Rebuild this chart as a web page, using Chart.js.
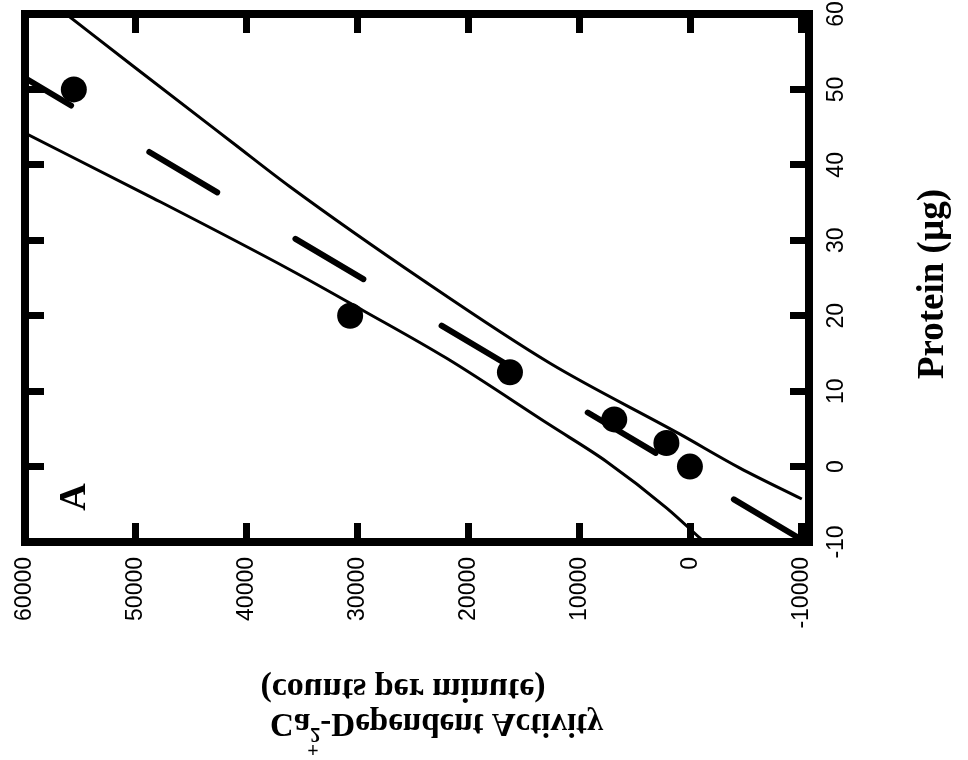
<!DOCTYPE html>
<html>
<head>
<meta charset="utf-8">
<script src="https://cdn.jsdelivr.net/npm/chart.js@4.4.0/dist/chart.umd.min.js"></script>
<style>
  html, body { margin: 0; padding: 0; background: #fff; }
</style>
</head>
<body>
<canvas id="chart-activity" width="968" height="760"></canvas>
<script>
// protein per assay (µg) and the Ca2+-dependent activity measured (cpm)
const proteinUg = [0, 3.125, 6.25, 12.5, 20, 50];
const activityCpm = [80, 2200, 6900, 16300, 30700, 55600];

// regression line, listed from its low end so the dashes start in the corner
const fitProtein = [-9.7, 51.5];
const fitActivity = [-10000, 60000];

// confidence band, low-activity side
const bandLowProtein = [60, 53.1, 42.9, 37.1, 24.7, 13.7, 4.3, -0.2, -4.3];
const bandLowActivity = [56300, 50270, 41260, 36120, 24130, 12690, 980, -4430, -10000];

// confidence band, high-activity side
const bandHighProtein = [44.2, 35.6, 26.1, 20.7, 14.35, 5.5, 0.65, -5.5, -9.5, -10];
const bandHighActivity = [60000, 48470, 36120, 29540, 22000, 12690, 7580, 2170, -830, -1200];

// axes
const activityTicks = [60000, 50000, 40000, 30000, 20000, 10000, 0, -10000];
const proteinTicks = [-10, 0, 10, 20, 30, 40, 50, 60];
const activityRange = [-10650, 60000];
const proteinRange = [-10, 60];

const panelLabel = 'A';
const proteinTitle = 'Protein (µg)';
const activityTitle = ['Ca', '2', '+', '-Dependent Activity'];
const activityUnits = '(counts per minute)';

const toPoints = (xs, ys) => xs.map((x, i) => ({ x: x, y: ys[i] }));

const tickFont = { family: '"Liberation Sans", Arial, sans-serif', size: 23 };
const frame = { display: true, width: 8, color: '#000' };
const tickMarks = {
    drawOnChartArea: false,
    drawTicks: true,
    tickLength: -19,
    tickWidth: 7,
    tickColor: '#000'
};

// the turned labels would otherwise push the plot area inward
function fixSize(s, size) {
    if (s.isHorizontal()) s.height = size; else s.width = size;
    s.paddingLeft = s.paddingRight = s.paddingTop = s.paddingBottom = 0;
}

function activityAxis(position, showLabels) {
    return {
        type: 'linear',
        position: position,
        reverse: true,
        min: activityRange[0],
        max: activityRange[1],
        afterBuildTicks: s => { s.ticks = activityTicks.map(v => ({ value: v })); },
        afterFit: s => fixSize(s, showLabels ? 218 : 0),
        border: frame,
        grid: tickMarks,
        ticks: {
            display: showLabels,
            autoSkip: false,
            minRotation: 90,
            maxRotation: 90,
            padding: 34,
            color: '#000',
            font: tickFont,
            callback: v => String(v)
        }
    };
}

function proteinAxis(position, showLabels) {
    return {
        type: 'linear',
        position: position,
        min: proteinRange[0],
        max: proteinRange[1],
        afterBuildTicks: s => { s.ticks = proteinTicks.map(v => ({ value: v })); },
        afterFit: s => fixSize(s, showLabels ? 159 : 0),
        border: frame,
        grid: tickMarks,
        ticks: {
            display: showLabels,
            autoSkip: false,
            minRotation: 90,
            crossAlign: 'center',
            padding: 30,
            color: '#000',
            font: tickFont,
            callback: v => String(v)
        }
    };
}

// titles and the panel letter are set by hand: one is turned, one is mirrored
const extraText = {
    id: 'extraText',
    afterDraw(chart) {
        const ctx = chart.ctx;
        const serif = '"Liberation Serif", "Times New Roman", serif';
        ctx.save();
        ctx.fillStyle = '#000';

        ctx.save();
        ctx.font = 'bold 38px ' + serif;
        ctx.textAlign = 'center';
        ctx.textBaseline = 'alphabetic';
        ctx.translate(85, 497);
        ctx.rotate(-Math.PI / 2);
        ctx.fillText(panelLabel, 0, 0);
        ctx.restore();

        ctx.save();
        ctx.font = 'bold 37px ' + serif;
        ctx.textAlign = 'center';
        ctx.textBaseline = 'alphabetic';
        ctx.translate(943, 284);
        ctx.rotate(-Math.PI / 2);
        ctx.fillText(proteinTitle, 0, 0);
        ctx.restore();

        ctx.save();
        ctx.font = 'bold 34px ' + serif;
        ctx.textAlign = 'center';
        ctx.textBaseline = 'alphabetic';
        ctx.translate(403, 679);
        ctx.scale(1, -1);
        ctx.fillText(activityUnits, 0, 0);
        ctx.restore();

        ctx.save();
        ctx.textAlign = 'left';
        ctx.textBaseline = 'alphabetic';
        ctx.translate(270, 714);
        ctx.scale(1, -1);
        ctx.font = 'bold 33px ' + serif;
        ctx.fillText(activityTitle[0], 0, 0);
        let x = ctx.measureText(activityTitle[0]).width;
        ctx.font = 'bold 20px ' + serif;
        ctx.fillText(activityTitle[1], x, -14);
        ctx.fillText(activityTitle[2], x - 3, -29);
        x += ctx.measureText(activityTitle[1]).width;
        ctx.font = 'bold 33px ' + serif;
        ctx.fillText(activityTitle[3], x, 0);
        ctx.restore();

        ctx.restore();
    }
};

const bandStyle = {
    showLine: true,
    borderColor: '#000',
    borderWidth: 3,
    cubicInterpolationMode: 'monotone',
    pointRadius: 0,
    xAxisID: 'x',
    yAxisID: 'y'
};

new Chart(document.getElementById('chart-activity'), {
    type: 'scatter',
    data: {
        datasets: [
            {
                label: 'Samples',
                data: toPoints(activityCpm, proteinUg),
                showLine: false,
                pointRadius: 13,
                pointBackgroundColor: '#000',
                pointBorderWidth: 0,
                xAxisID: 'x',
                yAxisID: 'y'
            },
            {
                label: 'Fit',
                data: toPoints(fitActivity, fitProtein),
                showLine: true,
                borderColor: '#000',
                borderWidth: 6,
                borderDash: [79, 91],
                borderCapStyle: 'round',
                pointRadius: 0,
                xAxisID: 'x',
                yAxisID: 'y'
            },
            Object.assign({ label: 'Band low', data: toPoints(bandLowActivity, bandLowProtein) }, bandStyle),
            Object.assign({ label: 'Band high', data: toPoints(bandHighActivity, bandHighProtein) }, bandStyle)
        ]
    },
    options: {
        responsive: false,
        animation: false,
        layout: { padding: { left: 25, top: 14, right: 0, bottom: 0 } },
        plugins: {
            legend: { display: false },
            tooltip: { enabled: false }
        },
        scales: {
            x: activityAxis('bottom', true),
            xTop: activityAxis('top', false),
            y: proteinAxis('right', true),
            yLeft: proteinAxis('left', false)
        }
    },
    plugins: [extraText]
});
</script>
</body>
</html>
